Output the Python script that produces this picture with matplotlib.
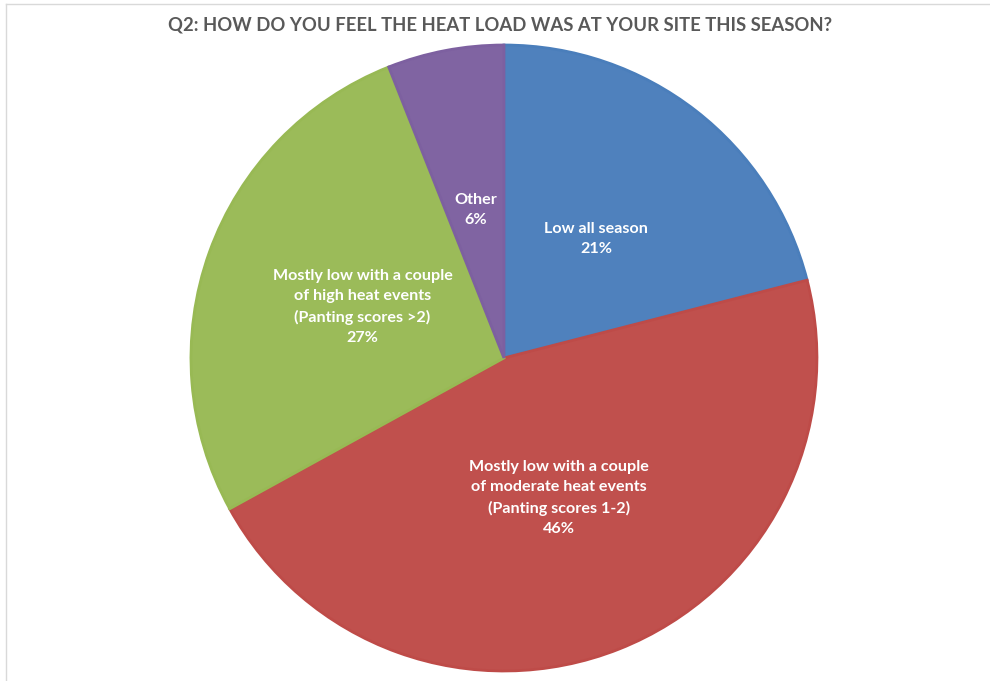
import numpy as np
import matplotlib.pyplot as plt
from matplotlib.lines import Line2D

categories = ['Low all season',
              'Mostly low with a couple\nof moderate heat events\n(Panting scores 1-2)',
              'Mostly low with a couple\nof high heat events\n(Panting scores >2)',
              'Other']
percent = [21, 46, 27, 6]
colors = ['#4F81BD', '#C0504D', '#9BBB59', '#8064A2']
edges = ['#4A7EBB', '#BE4B48', '#98B954', '#7D60A0']

plt.rcParams['font.family'] = ['Lato', 'DejaVu Sans']

fig = plt.figure(figsize=(9.9, 6.81), dpi=100)
ax = fig.add_axes([0.1929, 0.0147, 0.6323, 0.9192])

wedges, _ = ax.pie(percent, colors=colors, startangle=90, counterclock=False,
                   radius=1.0, wedgeprops=dict(linewidth=2))
for w, ec in zip(wedges, edges):
    w.set_edgecolor(ec)
ax.set_xlim(-1, 1)
ax.set_ylim(-1, 1)
ax.set_aspect('equal')

# labels sit inside each slice, halfway out
for w, name, p in zip(wedges, categories, percent):
    mid = np.deg2rad((w.theta1 + w.theta2) / 2)
    r = 0.48
    ax.text(r * np.cos(mid), r * np.sin(mid), f'{name}\n{p}%', ha='center', va='center',
            color='white', fontsize=11.6, fontweight='bold', linespacing=1.55)

fig.text(0.505, 0.964, 'Q2: HOW DO YOU FEEL THE HEAT LOAD WAS AT YOUR SITE THIS SEASON?',
         ha='center', va='center', fontsize=13.3, fontweight='bold', color='#595959')

# chart frame edges
fig.add_artist(Line2D([6 / 990, 1], [1 - 4 / 681, 1 - 4 / 681], color='#D9D9D9', lw=1))
fig.add_artist(Line2D([6 / 990, 6 / 990], [0, 1 - 4 / 681], color='#D9D9D9', lw=1))

fig.savefig('out.png', dpi=100)
